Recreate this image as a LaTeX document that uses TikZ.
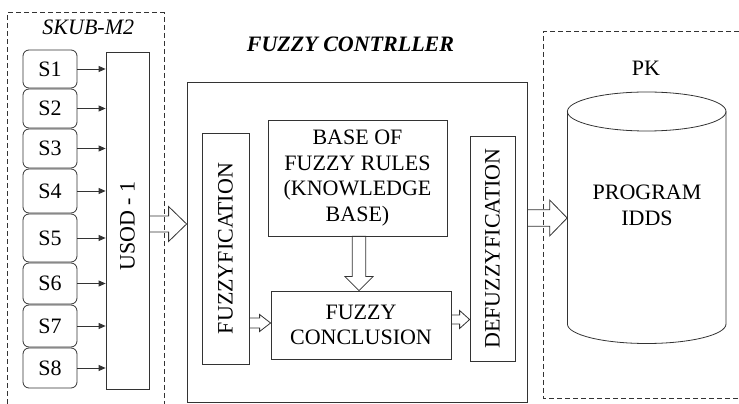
\documentclass[tikz,border=0pt]{standalone}
\usepackage{fontspec}
\newfontfamily\tnr{Liberation Serif}
\newfontfamily\tnri{Liberation Serif Italic}
\newfontfamily\tnrbi{Liberation Serif Bold Italic}
\usetikzlibrary{arrows.meta,calc}
\newcommand\hollowR[5]{%
  \draw[hollow] ($(#1)+(0,#3)$) -- ($(#2)+(-#5,#3)$) -- ($(#2)+(-#5,#4)$) -- (#2)
    -- ($(#2)+(-#5,-#4)$) -- ($(#2)+(-#5,-#3)$) -- ($(#1)+(0,-#3)$) -- cycle;}
\newcommand\hollowD[5]{%
  \draw[hollow] ($(#1)+(-#3,0)$) -- ($(#2)+(-#3,#5)$) -- ($(#2)+(-#4,#5)$) -- (#2)
    -- ($(#2)+(#4,#5)$) -- ($(#2)+(#3,#5)$) -- ($(#1)+(#3,0)$) -- cycle;}
\begin{document}
\begin{tikzpicture}[x=1pt,y=1pt,
  line/.style={draw=black!80, line width=0.8pt},
  box/.style={line, rectangle, inner sep=0pt, align=center, font=\tnr\fontsize{22}{25.5}\selectfont},
  sbox/.style={box, rounded corners=6pt, minimum width=54pt},
  txt/.style={inner sep=0pt, align=center, font=\tnr\fontsize{22}{25.5}\selectfont},
  dashbox/.style={draw=black!80, line width=0.7pt, dash pattern=on 5pt off 3pt},
  hollow/.style={line, line join=miter},
  sarrow/.style={line, -{Triangle[length=7pt,width=6pt]}}
]
\useasboundingbox (0,0) rectangle (739,404);

% left dashed group
\draw[dashbox] (7.5,0) -- (7.5,391.3) -- (164,391.3) -- (164,0);
\node[txt, font=\tnri\fontsize{22}{25.5}\selectfont, anchor=base] (skub) at (88.3,369) {SKUB-M2};

\node[sbox, minimum height=38pt] (s1) at (50,335) {S1};
\node[sbox, minimum height=39pt] (s2) at (50,295.5) {S2};
\node[sbox, minimum height=39pt] (s3) at (50,255.5) {S3};
\node[sbox, minimum height=44pt] (s4) at (50,213) {S4};
\node[sbox, minimum height=48pt] (s5) at (50,166) {S5};
\node[sbox, minimum height=41pt] (s6) at (50,120.5) {S6};
\node[sbox, minimum height=42pt] (s7) at (50,78) {S7};
\node[sbox, minimum height=40pt] (s8) at (50,36) {S8};

\node[box, minimum width=43pt, minimum height=337pt] (usod) at (127.5,183.5) {};
\node[txt, rotate=90] (usodt) at (127.5,178) {USOD - 1};

\foreach \i in {1,...,8} \draw[sarrow] (s\i.east) -- (s\i.east -| usod.west);

% fuzzy controller
\node[txt, font=\tnrbi\fontsize{22}{25.5}\selectfont, anchor=base] (fct) at (350.5,352) {FUZZY CONTRLLER};
\node[box, minimum width=340pt, minimum height=320pt] (fc) at (357,162) {};

\node[box, minimum width=47pt, minimum height=231pt] (fz) at (225.5,155.5) {};
\node[txt, rotate=90] (fzt) at (fz) {FUZZYFICATION};

\node[box, minimum width=179pt, minimum height=116pt] (kb) at (357.5,226) {BASE OF\\FUZZY RULES\\(KNOWLEDGE\\BASE)};

\node[box, minimum width=180pt, minimum height=68pt] (fcon) at (361,79) {FUZZY\\CONCLUSION};

\node[box, minimum width=45pt, minimum height=225pt] (dfz) at (492.5,155.5) {};
\node[txt, rotate=90] (dfzt) at (dfz) {DEFUZZYFICATION};

% right dashed group
\draw[dashbox] (739,372.3) -- (543.3,372.3) -- (543.3,5.7) -- (739,5.7);
\node[txt] (pk) at (646,336) {PK};
\draw[line] (567.4,292.5) -- (567.4,80) arc[start angle=180, end angle=360, x radius=79.3pt, y radius=19.5pt] -- (726,292.5);
\draw[line] (646.7,292.5) ellipse[x radius=79.3pt, y radius=19.5pt];
\node[inner sep=0pt, minimum width=158.7pt, minimum height=212pt] (cyl) at (646.7,186) {};
\node[txt] (prog) at (647,198.5) {PROGRAM\\IDDS};

% hollow arrows
\coordinate (y1) at (0,180);
\coordinate (y2) at (0,81);
\coordinate (y3) at (0,84.5);
\coordinate (x4) at (359,0);
\coordinate (a1s) at (usod.east |- y1);
\coordinate (a1e) at (fc.west |- y1);
\coordinate (a2s) at (fz.east |- y2);
\coordinate (a2e) at (fcon.west |- y2);
\coordinate (a3s) at (fcon.east |- y3);
\coordinate (a3e) at (dfz.west |- y3);
\coordinate (a4s) at (kb.south -| x4);
\coordinate (a4e) at (fcon.north -| x4);
\coordinate (a5s) at (fc.east |- cyl.west);
\coordinate (a5e) at (cyl.west);
\hollowR{a1s}{a1e}{8}{17.5}{18}
\hollowR{a2s}{a2e}{5}{8.5}{11}
\hollowR{a3s}{a3e}{4.5}{9}{10}
\hollowD{a4s}{a4e}{6.7}{14}{14}
\hollowR{a5s}{a5e}{8.3}{18}{17.5}
\end{tikzpicture}
\end{document}
